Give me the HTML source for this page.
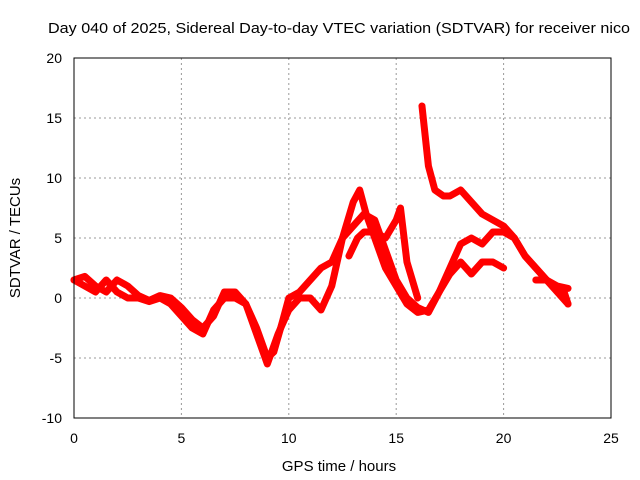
<!DOCTYPE html>
<html><head><meta charset="utf-8"><style>
body{margin:0;background:#fff}
svg{display:block;font-family:"Liberation Sans",sans-serif}
</style></head><body>
<svg width="640" height="480">
<rect width="640" height="480" fill="#fff"/>
<text x="339" y="33" font-size="15" text-anchor="middle" textLength="582" lengthAdjust="spacingAndGlyphs">Day 040 of 2025, Sidereal Day-to-day VTEC variation (SDTVAR) for receiver nico</text>
<g id="grid"></g>
<g id="series"></g>
<rect x="74" y="58" width="537" height="360" fill="none" stroke="#000" stroke-width="1"/>
<g id="axes" font-size="14"></g>
<text x="339" y="471" font-size="15" text-anchor="middle">GPS time / hours</text>
<text transform="translate(20,238) rotate(-90)" font-size="15" text-anchor="middle">SDTVAR / TECUs</text>
</svg>
<script>
const xTicks=[0,5,10,15,20,25];
const yTicks=[-10,-5,0,5,10,15,20];
const track1H=[0,0.5,1,1.5,2,2.5,3,3.5,4,4.5,5,5.5,6,6.5,7,7.5,8,8.5,9,9.3,9.7,10,10.5,11,11.5,12,12.5,13,13.5,14,14.5,15,15.5,16,16.5,17,17.5,18,18.5,19,19.5,20,20.5,21,21.5,22,22.5,23];
const track1V=[1.5,1.8,1.0,0.5,1.5,1.0,0.2,-0.2,0.2,0,-0.8,-1.8,-2.5,-1.5,0.5,0.5,-0.5,-2.5,-5,-4.5,-2,0,0.5,1.5,2.5,3,5,6,7,6.5,4,1.5,0,-0.8,-1.2,0.5,2.5,4.5,5,4.5,5.5,5.5,5,3.5,2.5,1.5,1,0.8];
const track2H=[0,0.5,1,1.5,2,2.5,3,3.5,4,4.5,5,5.5,6,6.5,7,7.5,8,8.5,9,9.5,10,10.5,11,11.5,12,12.5,13,13.3,13.6,14,14.5,15,15.5,16,16.5,17,17.5,18,18.5,19,19.5,20];
const track2V=[1.5,1,0.5,1.5,0.5,0,0,-0.3,0,-0.5,-1.5,-2.5,-3,-1,0,0,-0.5,-3,-5.5,-3,-1,0,0,-1,1,5,8,9,7,5,2.5,1,-0.5,-1.2,-1,0.5,2,3,2,3,3,2.5];
const track3H=[16.2,16.5,16.8,17.2,17.5,18,18.5,19,19.5,20,20.5,21,21.5,22,22.5,22.8,23];
const track3V=[16,11,9,8.5,8.5,9,8,7,6.5,6,5,3.5,2.5,1.5,0.8,0.6,-0.5];
const track4H=[12.8,13.2,13.5,14,14.5,15,15.2,15.5,16];
const track4V=[3.5,5,5.5,5.5,5,6.5,7.5,3,0];
const track5H=[21.5,22,22.5,23];
const track5V=[1.5,1.5,0.5,-0.5];
const NS="http://www.w3.org/2000/svg";
const sx=h=>74+h*537/25, sy=v=>298-v*12;
const grid=document.getElementById('grid'),axes=document.getElementById('axes'),ser=document.getElementById('series');
xTicks.forEach(t=>{
 const x=sx(t);
 if(t>0&&t<25){const l=document.createElementNS(NS,'line');
 
 
 l.setAttribute('x1',x);l.setAttribute('x2',x);l.setAttribute('y1',58);l.setAttribute('y2',418);l.setAttribute('stroke','#999');l.setAttribute('stroke-dasharray','2,3');grid.appendChild(l);}
 const tx=document.createElementNS(NS,'text');
 
 
 tx.setAttribute('x',x);tx.setAttribute('y',443);tx.setAttribute('text-anchor','middle');tx.textContent=t;axes.appendChild(tx);
});
yTicks.forEach(t=>{
 const y=sy(t);
 if(t>-10&&t<20){const l=document.createElementNS(NS,'line');
 
 
 l.setAttribute('x1',74);l.setAttribute('x2',611);l.setAttribute('y1',y);l.setAttribute('y2',y);l.setAttribute('stroke','#999');l.setAttribute('stroke-dasharray','2,3');grid.appendChild(l);}
 const tx=document.createElementNS(NS,'text');
 
 
 tx.setAttribute('x',62);tx.setAttribute('y',y+5);tx.setAttribute('text-anchor','end');tx.textContent=t;axes.appendChild(tx);
});
[[track1H,track1V],[track2H,track2V],[track3H,track3V],[track4H,track4V],[track5H,track5V]].forEach(([H,V],i)=>{
 const p=document.createElementNS(NS,'polyline');
 
 
 p.setAttribute('points',H.map((h,j)=>sx(h)+','+sy(V[j])).join(' '));
 p.setAttribute('fill','none');p.setAttribute('stroke','#f00');p.setAttribute('stroke-width','7');p.setAttribute('stroke-linejoin','round');p.setAttribute('stroke-linecap','round');
 ser.appendChild(p);
});
</script>
</body></html>
